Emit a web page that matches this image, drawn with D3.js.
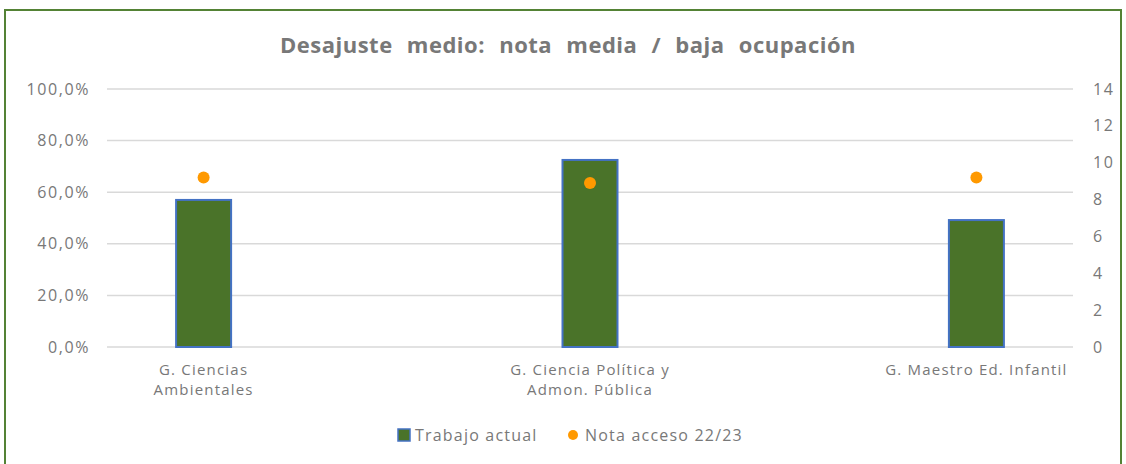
<!DOCTYPE html>
<html>
<head>
<meta charset="utf-8">
<script src="https://cdn.jsdelivr.net/npm/d3@7"></script>
<style>
  body { margin: 0; background: #fff; }
  svg text { font-family: "Open Sans", "Noto Sans", sans-serif; fill: #787878; }
</style>
</head>
<body>
<div id="chart"></div>
<script>
// data
var categories = [["G. Ciencias", "Ambientales"], ["G. Ciencia Política y", "Admon. Pública"], ["G. Maestro Ed. Infantil"]];
var trabajoActual = [0.57, 0.725, 0.492];
var notaAcceso = [9.2, 8.9, 9.2];
var leftTicks = [0, 0.2, 0.4, 0.6, 0.8, 1.0];
var rightTicks = [0, 2, 4, 6, 8, 10, 12, 14];

var W = 1126, H = 464;
var margin = {top: 89, right: 53, bottom: 117, left: 107},
    width = W - margin.left - margin.right,
    height = H - margin.top - margin.bottom;

var svg = d3.select("#chart")
    .append("svg")
    .attr("width", W)
    .attr("height", H);

// chart frame
svg.append("rect")
    .attr("x", 5).attr("y", 10)
    .attr("width", 1116).attr("height", 470)
    .attr("fill", "none")
    .attr("stroke", "#548235")
    .attr("stroke-width", 2);

svg.append("text")
    .attr("x", 568).attr("y", 53)
    .attr("text-anchor", "middle")
    .style("font-size", "22px")
    .style("font-weight", "bold")
    .style("letter-spacing", "0.5px")
    .style("word-spacing", "8px")
    .text("Desajuste medio: nota media / baja ocupación");

var g = svg.append("g")
    .attr("transform", "translate(" + margin.left + "," + margin.top + ")");

var idx = categories.map(function (d, i) { return i; });
var x = d3.scalePoint()
    .domain(idx)
    .range([0, width])
    .padding(0.25);

var y = d3.scaleLinear().domain([0, 1]).range([height, 0]);
var y2 = d3.scaleLinear().domain([0, 14]).range([height, 0]);

// gridlines
g.append("g")
    .selectAll("line")
    .data(leftTicks)
    .enter()
    .append("line")
    .attr("x1", 0).attr("x2", width)
    .attr("y1", function (d) { return y(d); })
    .attr("y2", function (d) { return y(d); })
    .attr("stroke", "#d9d9d9")
    .attr("stroke-width", 1.5);

// left axis
var fmt = function (d) { return d3.format(".1f")(d * 100).replace(".", ",") + "%"; };
var yAxis = g.append("g")
    .call(d3.axisLeft(y).tickValues(leftTicks).tickFormat(fmt).tickSize(0).tickPadding(17));
yAxis.select(".domain").remove();
yAxis.selectAll("text").style("font-size", "16px").style("letter-spacing", "1.6px");

// right axis
var y2Axis = g.append("g")
    .attr("transform", "translate(" + width + ",0)")
    .call(d3.axisRight(y2).tickValues(rightTicks).tickSize(0).tickPadding(20));
y2Axis.select(".domain").remove();
y2Axis.selectAll("text").style("font-size", "16px").style("letter-spacing", "1.6px");

// bars
var barW = 55;
g.append("g")
    .selectAll("rect")
    .data(trabajoActual)
    .enter()
    .append("rect")
    .attr("x", function (d, i) { return x(i) - barW / 2; })
    .attr("y", function (d) { return y(d); })
    .attr("width", barW)
    .attr("height", function (d) { return height - y(d); })
    .attr("fill", "#4a7329")
    .attr("stroke", "#4472c4")
    .attr("stroke-width", 2);

// dots
g.append("g")
    .selectAll("circle")
    .data(notaAcceso)
    .enter()
    .append("circle")
    .attr("cx", function (d, i) { return x(i); })
    .attr("cy", function (d) { return y2(d); })
    .attr("r", 6)
    .attr("fill", "#ff9900");

// category labels
var cat = g.append("g")
    .selectAll("text")
    .data(categories)
    .enter()
    .append("text")
    .attr("text-anchor", "middle")
    .attr("transform", function (d, i) { return "translate(" + x(i) + "," + (height + 28) + ")"; })
    .style("font-size", "15px")
    .style("letter-spacing", "1.2px");
cat.selectAll("tspan")
    .data(function (d) { return d; })
    .enter()
    .append("tspan")
    .attr("x", 0)
    .attr("dy", function (d, i) { return i === 0 ? 0 : 20; })
    .text(function (d) { return d; });

// legend
var lg = svg.append("g").attr("transform", "translate(398,435)");
lg.append("rect")
    .attr("x", 0).attr("y", -6)
    .attr("width", 12).attr("height", 12)
    .attr("fill", "#4a7329")
    .attr("stroke", "#4472c4")
    .attr("stroke-width", 1.5);
lg.append("text")
    .attr("x", 17).attr("y", 6)
    .style("font-size", "16px")
    .style("letter-spacing", "1.2px")
    .text("Trabajo actual");
lg.append("circle")
    .attr("cx", 175).attr("cy", 0)
    .attr("r", 5)
    .attr("fill", "#ff9900");
lg.append("text")
    .attr("x", 187).attr("y", 6)
    .style("font-size", "16px")
    .style("letter-spacing", "1.2px")
    .text("Nota acceso 22/23");
</script>
</body>
</html>
